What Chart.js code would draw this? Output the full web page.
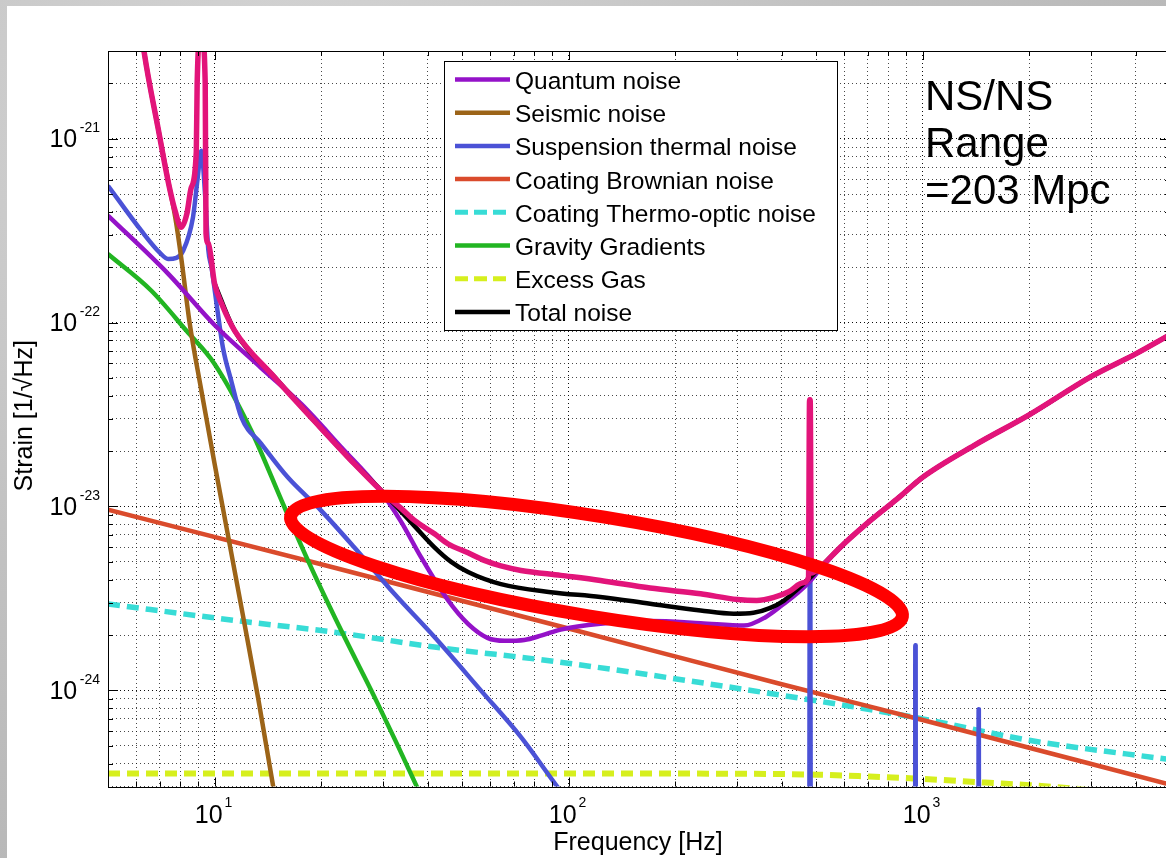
<!DOCTYPE html>
<html>
<head>
<meta charset="utf-8">
<script src="https://cdn.jsdelivr.net/npm/chart.js@4.4.1/dist/chart.umd.min.js"></script>
<style>
  html, body { margin: 0; padding: 0; width: 1166px; height: 858px; overflow: hidden; }
  body { background: radial-gradient(ellipse at 25% 15%, #d6d6d6 0%, #c2c2c2 45%, #b0b0b0 100%); }
  #paper { position: absolute; left: 7px; top: 6px; width: 1159px; height: 852px; background: #ffffff; }
  #wrap { position: absolute; left: 0; top: 0; width: 1172px; height: 858px; }
</style>
</head>
<body>
<div id="paper"></div>
<div id="wrap"><canvas id="chart" width="1172" height="858"></canvas></div>
<script>
// ---------------- DATA ----------------
const seriesNames = ['Quantum noise', 'Seismic noise', 'Suspension thermal noise', 'Coating Brownian noise',
  'Coating Thermo-optic noise', 'Gravity Gradients', 'Excess Gas', 'Total noise'];

// [frequency Hz, strain 1/sqrt(Hz)]
const quantumNoise = [[5, 3.82e-22], [7.4, 1.84e-22], [10, 9.7e-23], [13.5, 5.7e-23], [17.6, 3.6e-23], [22.8, 2.1e-23],
  [28.9, 1.27e-23], [33.6, 8.3e-24], [38.3, 5.3e-24], [45.6, 3.1e-24], [52, 2.3e-24], [59, 1.93e-24], [66, 1.86e-24],
  [75, 1.88e-24], [84, 1.99e-24], [95, 2.14e-24], [123, 2.3e-24], [170, 2.38e-24], [236, 2.32e-24], [313, 2.25e-24],
  [360, 2.5e-24], [406, 2.96e-24], [445, 3.4e-24], [483, 3.96e-24], [515, 4.6e-24], [600, 6.27e-24], [713, 8.4e-24],
  [848, 1.1e-23], [1000, 1.44e-23], [1400, 2.15e-23], [2000, 3.15e-23], [3000, 5.1e-23], [4000, 6.76e-23], [5000, 8.6e-23]];

const seismicNoise = [[6.0, 6.5e-21], [6.33, 2.93e-21], [6.92, 1.15e-21], [7.46, 5.4e-22], [7.75, 3.7e-22], [8.05, 2.25e-22],
  [8.5, 1.0e-22], [9.17, 4.3e-23], [10, 1.71e-23], [11.02, 6.3e-24], [12.15, 2.3e-24], [13.26, 9.2e-25], [14.62, 3.05e-25],
  [15.5, 1.6e-25]];

const suspensionThermal = [[5, 5.55e-22], [6.21, 3.16e-22], [7.0, 2.4e-22], [7.39, 2.22e-22], [7.8, 2.25e-22],
  [8.15, 2.46e-22], [8.69, 3.74e-22], [8.95, 6e-22], [9.17, 8.6e-22], [9.4, 5e-22], [9.6, 2.5e-22], [9.8, 2.0e-22],
  [10.2, 1.15e-22], [10.56, 7.3e-23], [11.14, 4.84e-23], [11.9, 3.06e-23], [13.55, 2.19e-23], [16.1, 1.44e-23],
  [20, 9.5e-24], [24.8, 6.0e-24], [32.2, 3.35e-24], [41.8, 1.95e-24], [56.5, 1.0e-24], [73.4, 5.57e-25],
  [93.1, 2.98e-25], [130, 1.3e-25], [478, 1e-26], [480, 4.0e-24], [482, 4.0e-24], [484, 1e-26],
  [952, 5e-27], [954, 1.76e-24], [956, 1.76e-24], [958, 5e-27], [1437, 3e-27], [1440, 7.9e-25], [1442, 7.9e-25],
  [1445, 3e-27], [5000, 1e-28]];

const coatingBrownian = [[5, 9.6e-24], [20, 4.85e-24], [100, 2.17e-24], [400, 1.08e-24], [1000, 6.9e-25], [5000, 3.07e-25]];

const coatingThermoOptic = [[5, 2.95e-24], [11.4, 2.4e-24], [21.8, 2.07e-24], [41.8, 1.72e-24], [93, 1.43e-24],
  [400, 9.4e-25], [1000, 7.0e-25], [2000, 5.35e-25], [5000, 4.2e-25]];

const gravityGradients = [[5, 2.36e-22], [6.63, 1.49e-22], [8.32, 9.05e-23], [10, 5.96e-23], [12.69, 2.59e-23],
  [15.6, 1.035e-23], [18.53, 4.89e-24], [22.78, 2.12e-24], [28.9, 8.47e-25], [37.1, 3.05e-25], [40, 2.2e-25]];

const excessGas = [[5, 3.53e-25], [100, 3.53e-25], [300, 3.52e-25], [500, 3.48e-25], [700, 3.4e-25], [1000, 3.3e-25],
  [1500, 3.15e-25], [2000, 3.05e-25], [2800, 2.9e-25], [5000, 2.5e-25]];

const totalNoise = [[10, 1.63e-22], [11.39, 9.05e-23], [14.8, 5.04e-23], [19.1, 2.93e-23], [24.8, 1.71e-23],
  [29.6, 1.22e-23], [33.6, 9.4e-24], [37, 7.7e-24], [41.8, 6.0e-24], [46.6, 5.0e-24], [52, 4.4e-24], [64.4, 3.78e-24],
  [89, 3.42e-24], [123, 3.22e-24], [170, 2.96e-24], [236, 2.72e-24], [293, 2.61e-24], [333, 2.64e-24], [370, 2.8e-24],
  [406, 3.08e-24], [440, 3.5e-24], [483, 4.13e-24], [515, 4.68e-24], [600, 6.27e-24], [713, 8.4e-24], [848, 1.1e-23],
  [1000, 1.44e-23], [1400, 2.15e-23], [2000, 3.15e-23], [3000, 5.1e-23], [4000, 6.76e-23], [5000, 8.6e-23]];

// unlabeled magenta curve (total with resonances)
const totalWithResonances = [[6.0, 6.5e-21], [6.33, 2.93e-21], [6.92, 1.15e-21], [7.46, 5.4e-22], [7.75, 4.0e-22],
  [8.05, 3.3e-22], [8.35, 3.9e-22], [8.59, 5.4e-22], [8.88, 8.5e-22], [8.93, 2e-21], [9.17, 4e-21], [9.41, 2e-21],
  [9.46, 3.05e-22], [9.6, 2.7e-22], [10, 1.63e-22], [10.5, 1.25e-22], [11.39, 9.05e-23], [14.77, 5.04e-23],
  [19.1, 2.93e-23], [24.8, 1.71e-23], [30.2, 1.17e-23], [33.6, 9.8e-24], [36.7, 8.4e-24], [41.8, 7.1e-24],
  [45.6, 6.27e-24], [52, 5.6e-24], [57.8, 5.09e-24], [64.4, 4.75e-24], [73.4, 4.49e-24], [95, 4.22e-24],
  [123, 3.96e-24], [170, 3.6e-24], [236, 3.35e-24], [300, 3.12e-24], [340, 3.08e-24], [380, 3.2e-24],
  [420, 3.45e-24], [460, 3.85e-24], [476, 4.1e-24], [479.5, 3.8e-23], [481.5, 3.8e-23], [485, 4.35e-24],
  [515, 4.68e-24], [560, 5.5e-24], [600, 6.27e-24], [713, 8.4e-24], [848, 1.1e-23], [1000, 1.44e-23],
  [1400, 2.15e-23], [2000, 3.15e-23], [3000, 5.1e-23], [4000, 6.76e-23], [5000, 8.6e-23]];

const xTickValues = [10, 100, 1000];
const xTickExponents = ['1', '2', '3'];
const yTickValues = [1e-21, 1e-22, 1e-23, 1e-24];
const yTickExponents = ['-21', '-22', '-23', '-24'];

const xTitle = 'Frequency [Hz]';
const yTitle = 'Strain [1/\u221AHz]';
const rangeNote = ['NS/NS', 'Range', '=203 Mpc'];

// highlighted region (ends of the red ellipse, in frequency / strain)
const highlightEnds = [[16.4, 8.83e-24], [877, 2.52e-24]];

// ---------------- STYLE ----------------
const FONT = '"Liberation Sans", Arial, Helvetica, sans-serif';
const X_MIN = 5, X_MAX = 5000, Y_MIN = 3e-25, Y_MAX = 3e-21;

const styles = {
  quantum:   { color: '#9412c8', width: 4.5 },
  seismic:   { color: '#9c6418', width: 4.5 },
  susp:      { color: '#4b52d6', width: 4.5 },
  brownian:  { color: '#da4b2c', width: 4.5 },
  thermo:    { color: '#38dcd6', width: 5.5, dash: [12, 7] },
  gravity:   { color: '#22b522', width: 4.5 },
  gas:       { color: '#d6ef1e', width: 6, dash: [12, 7] },
  total:     { color: '#000000', width: 4.5 },
  magenta:   { color: '#e2147a', width: 5.5 }
};
const legendStyles = [styles.quantum, styles.seismic, styles.susp, styles.brownian, styles.thermo,
  styles.gravity, styles.gas, styles.total];

function isDecade(v) {
  const l = Math.log10(v);
  return Math.abs(l - Math.round(l)) < 1e-6;
}
function gridValues(min, max) {
  const out = [];
  for (let e = Math.floor(Math.log10(min)); e <= Math.ceil(Math.log10(max)); e++) {
    for (let m = 1; m <= 9; m++) {
      const v = m * Math.pow(10, e);
      if (v >= min * 0.9999 && v <= max * 1.0001) out.push(v);
    }
  }
  return out;
}
function ds(label, pairs, st, order) {
  return {
    label: label,
    data: pairs.map(p => ({ x: p[0], y: p[1] })),
    borderColor: st.color,
    backgroundColor: st.color,
    borderWidth: st.width,
    borderDash: st.dash || [],
    borderJoinStyle: 'round',
    borderCapStyle: 'butt',
    cubicInterpolationMode: 'monotone',
    pointRadius: 0,
    pointHoverRadius: 0,
    fill: false,
    clip: 0,
    order: order
  };
}

const datasets = [
  ds('', totalWithResonances, styles.magenta, 0),
  ds(seriesNames[7], totalNoise, styles.total, 1),
  ds(seriesNames[0], quantumNoise, styles.quantum, 2),
  ds(seriesNames[1], seismicNoise, styles.seismic, 3),
  ds(seriesNames[2], suspensionThermal, styles.susp, 4),
  ds(seriesNames[5], gravityGradients, styles.gravity, 5),
  ds(seriesNames[3], coatingBrownian, styles.brownian, 6),
  ds(seriesNames[4], coatingThermoOptic, styles.thermo, 7),
  ds(seriesNames[6], excessGas, styles.gas, 8)
];

const gridColor = ctx => (ctx.tick && isDecade(ctx.tick.value)) ? 'rgba(0,0,0,0.95)' : 'rgba(20,20,20,0.78)';

const decorPlugin = {
  id: 'decor',
  afterDatasetsDraw(chart) {
    const ctx = chart.ctx, xs = chart.scales.x, ys = chart.scales.y;
    // red highlight ellipse
    const x1 = xs.getPixelForValue(highlightEnds[0][0]), y1 = ys.getPixelForValue(highlightEnds[0][1]);
    const x2 = xs.getPixelForValue(highlightEnds[1][0]), y2 = ys.getPixelForValue(highlightEnds[1][1]);
    const cx = (x1 + x2) / 2, cy = (y1 + y2) / 2;
    const a = Math.hypot(x2 - x1, y2 - y1) / 2;
    const ang = Math.atan2(y2 - y1, x2 - x1);
    ctx.save();
    ctx.beginPath();
    ctx.ellipse(cx, cy, a, 50, ang, 0, Math.PI * 2);
    ctx.lineWidth = 13;
    ctx.strokeStyle = '#ff0000';
    ctx.stroke();
    ctx.restore();
  },
  afterDraw(chart) {
    const ctx = chart.ctx, xs = chart.scales.x, ys = chart.scales.y;
    const area = chart.chartArea;
    ctx.save();
    // axes box
    ctx.strokeStyle = '#000';
    ctx.lineWidth = 1;
    ctx.strokeRect(Math.round(area.left) + 0.5, Math.round(area.top) + 0.5,
      Math.round(area.right - area.left), Math.round(area.bottom - area.top));
    // inward ticks
    ctx.beginPath();
    gridValues(X_MIN, X_MAX).forEach(v => {
      const px = Math.round(xs.getPixelForValue(v)) + 0.5;
      const len = isDecade(v) ? 9 : 5;
      ctx.moveTo(px, area.bottom); ctx.lineTo(px, area.bottom - len);
      ctx.moveTo(px, area.top); ctx.lineTo(px, area.top + len);
    });
    gridValues(Y_MIN, Y_MAX).forEach(v => {
      const py = Math.round(ys.getPixelForValue(v)) + 0.5;
      const len = isDecade(v) ? 10 : 5;
      ctx.moveTo(area.left, py); ctx.lineTo(area.left + len, py);
      ctx.moveTo(area.right, py); ctx.lineTo(area.right - len, py);
    });
    ctx.stroke();

    ctx.fillStyle = '#000';
    ctx.textBaseline = 'alphabetic';
    // y tick labels
    yTickValues.forEach((v, i) => {
      const py = ys.getPixelForValue(v);
      ctx.font = '14px ' + FONT;
      const we = ctx.measureText(yTickExponents[i]).width;
      ctx.textAlign = 'left';
      const expX = area.left - 8 - we;
      ctx.fillText(yTickExponents[i], expX, py - 6.5);
      ctx.font = '25px ' + FONT;
      ctx.textAlign = 'right';
      ctx.fillText('10', expX - 2.5, py + 8.7);
    });
    // x tick labels
    xTickValues.forEach((v, i) => {
      const px = xs.getPixelForValue(v);
      ctx.font = '25px ' + FONT;
      const w10 = ctx.measureText('10').width;
      ctx.font = '14px ' + FONT;
      const we = ctx.measureText(xTickExponents[i]).width;
      const start = px - 1 - (w10 + 2 + we) / 2;
      ctx.textAlign = 'left';
      ctx.font = '25px ' + FONT;
      ctx.fillText('10', start, area.bottom + 36.2);
      ctx.font = '14px ' + FONT;
      ctx.fillText(xTickExponents[i], start + w10 + 2, area.bottom + 20.2);
    });
    // axis titles
    ctx.font = '25px ' + FONT;
    ctx.textAlign = 'center';
    ctx.fillText(xTitle, (area.left + area.right) / 2 - 1, 850);
    ctx.save();
    ctx.translate(31.5, (area.top + area.bottom) / 2 - 3);
    ctx.rotate(-Math.PI / 2);
    ctx.fillText(yTitle, 0, 0);
    ctx.restore();

    // range note
    ctx.font = '42px ' + FONT;
    ctx.textAlign = 'left';
    const noteBase = [110, 157, 204];
    rangeNote.forEach((t, i) => ctx.fillText(t, 925, noteBase[i]));

    // legend box
    const lx = 444, ly = 61, lw = 393, lh = 269;
    ctx.fillStyle = '#fff';
    ctx.fillRect(lx, ly, lw, lh);
    ctx.strokeStyle = '#000';
    ctx.lineWidth = 1;
    ctx.strokeRect(lx + 0.5, ly + 0.5, lw, lh);
    seriesNames.forEach((name, i) => {
      const st = legendStyles[i];
      const ry = 79.5 + i * 33.2;
      ctx.beginPath();
      ctx.setLineDash(st.dash ? [13, 6] : []);
      ctx.lineWidth = st.dash ? 5 : 4.5;
      ctx.strokeStyle = st.color;
      ctx.moveTo(455, ry); ctx.lineTo(510, ry);
      ctx.stroke();
      ctx.setLineDash([]);
      ctx.fillStyle = '#000';
      ctx.font = '24.5px ' + FONT;
      ctx.textAlign = 'left';
      ctx.fillText(name, 515, ry + 9.5);
    });
    ctx.restore();
  }
};

new Chart(document.getElementById('chart'), {
  type: 'line',
  data: { datasets: datasets },
  options: {
    responsive: false,
    animation: false,
    devicePixelRatio: 1,
    layout: { padding: { left: 108, top: 51, right: 2, bottom: 71.5 } },
    plugins: { legend: { display: false }, tooltip: { enabled: false }, title: { display: false } },
    events: [],
    scales: {
      x: {
        type: 'logarithmic', min: X_MIN, max: X_MAX, position: 'bottom',
        afterBuildTicks: s => { s.ticks = gridValues(X_MIN, X_MAX).map(v => ({ value: v, major: isDecade(v) })); },
        ticks: { display: false },
        grid: { display: true, drawTicks: false, color: gridColor, lineWidth: 1 },
        border: { display: false, dash: [1, 3] },
        title: { display: false }
      },
      y: {
        type: 'logarithmic', min: Y_MIN, max: Y_MAX, position: 'left',
        afterBuildTicks: s => { s.ticks = gridValues(Y_MIN, Y_MAX).map(v => ({ value: v, major: isDecade(v) })); },
        ticks: { display: false },
        grid: { display: true, drawTicks: false, color: gridColor, lineWidth: 1 },
        border: { display: false, dash: [1, 3] },
        title: { display: false }
      }
    }
  },
  plugins: [decorPlugin]
});
</script>
</body>
</html>
